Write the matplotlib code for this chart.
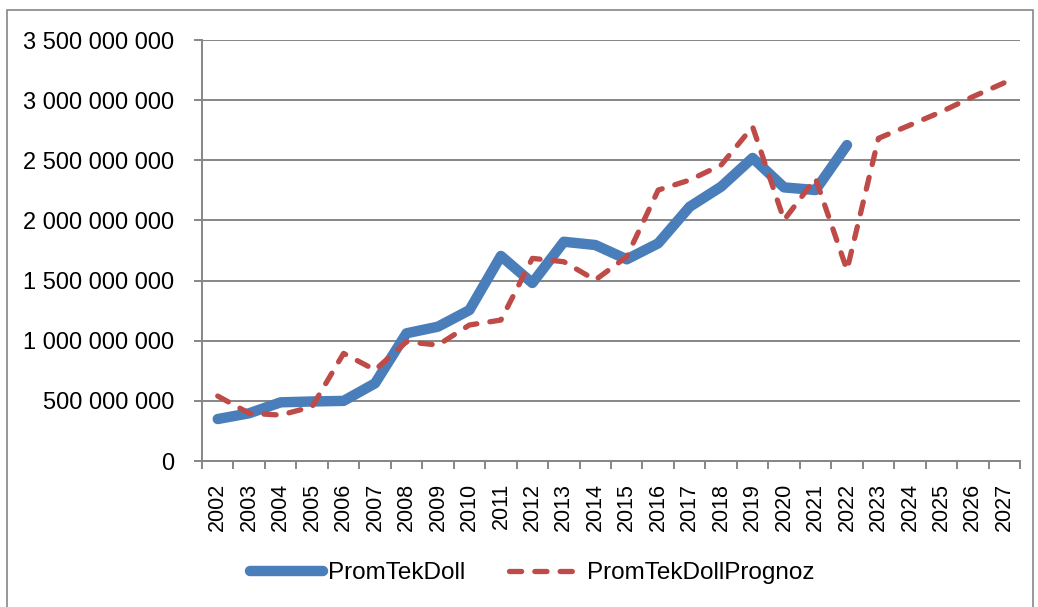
import numpy as np
import matplotlib.pyplot as plt
from matplotlib.patches import Rectangle
from matplotlib.ticker import FuncFormatter, FixedLocator

# --- dados ---
anos = [str(a) for a in range(2002, 2028)]
prom_tek_doll = [349e6, 397e6, 488e6, 495e6, 500e6, 646e6, 1062e6, 1117e6, 1255e6,
                 1705e6, 1480e6, 1823e6, 1796e6, 1677e6, 1810e6, 2114e6, 2281e6,
                 2520e6, 2275e6, 2253e6, 2627e6]
prom_tek_doll_prognoz = [540e6, 397e6, 382e6, 452e6, 895e6, 757e6, 992e6, 964e6, 1131e6,
                         1172e6, 1685e6, 1657e6, 1505e6, 1699e6, 2253e6, 2336e6, 2461e6,
                         2779e6, 2004e6, 2350e6, 1588e6, 2683e6, 2793e6, 2904e6, 3029e6,
                         3145e6]

plt.rcParams['font.family'] = ['Liberation Sans', 'DejaVu Sans']

fig = plt.figure(figsize=(10.38, 6.07), dpi=100)
ax = fig.add_axes([0.1946, 0.2405, 0.7881, 0.6935])

x = np.arange(len(anos))
ax.plot(x[:len(prom_tek_doll)], prom_tek_doll, color='#4A7EBB', lw=7.5,
        solid_capstyle='round', solid_joinstyle='round', label='PromTekDoll')
ax.plot(x, prom_tek_doll_prognoz, color='#BE4B48', lw=3.8, linestyle=(0, (2.3, 2.5)),
        dash_capstyle='round', dash_joinstyle='round', label='PromTekDollPrognoz')

ax.set_xlim(-0.5, len(anos) - 0.5)
ax.set_ylim(0, 3.5e9)
ax.set_yticks(np.arange(0, 3.5e9 + 1, 5e8))
ax.yaxis.set_major_formatter(FuncFormatter(lambda v, p: f"{int(v):,}".replace(',', ' ')))
ax.grid(axis='y', color='#868686', lw=1.4)
ax.set_axisbelow(True)

ax.set_xticks(x)
ax.set_xticklabels(anos, rotation=90)
ax.xaxis.set_minor_locator(FixedLocator(np.arange(-0.5, len(anos), 1)))
ax.tick_params(axis='x', which='major', length=0, pad=16, labelsize=15.5)
ax.tick_params(axis='x', which='minor', length=6, width=1.4, color='#868686')
ax.tick_params(axis='y', length=6, width=1.4, color='#868686', pad=14, labelsize=17)

for s in ['top', 'right']:
    ax.spines[s].set_visible(False)
for s in ['left', 'bottom']:
    ax.spines[s].set_color('#868686')
    ax.spines[s].set_linewidth(1.4)

fig.legend(loc='center', bbox_to_anchor=(0.513, 0.056), ncol=2, frameon=False,
           fontsize=17.5, handlelength=3.0, columnspacing=1.8, handletextpad=0.2)

fig.patches.append(Rectangle((7 / 1038, -0.01), 1026 / 1038, 1 - 10 / 607 + 0.01,
                             transform=fig.transFigure, fill=False,
                             edgecolor='#868686', lw=1.2))

fig.savefig('out.png', dpi=100)
